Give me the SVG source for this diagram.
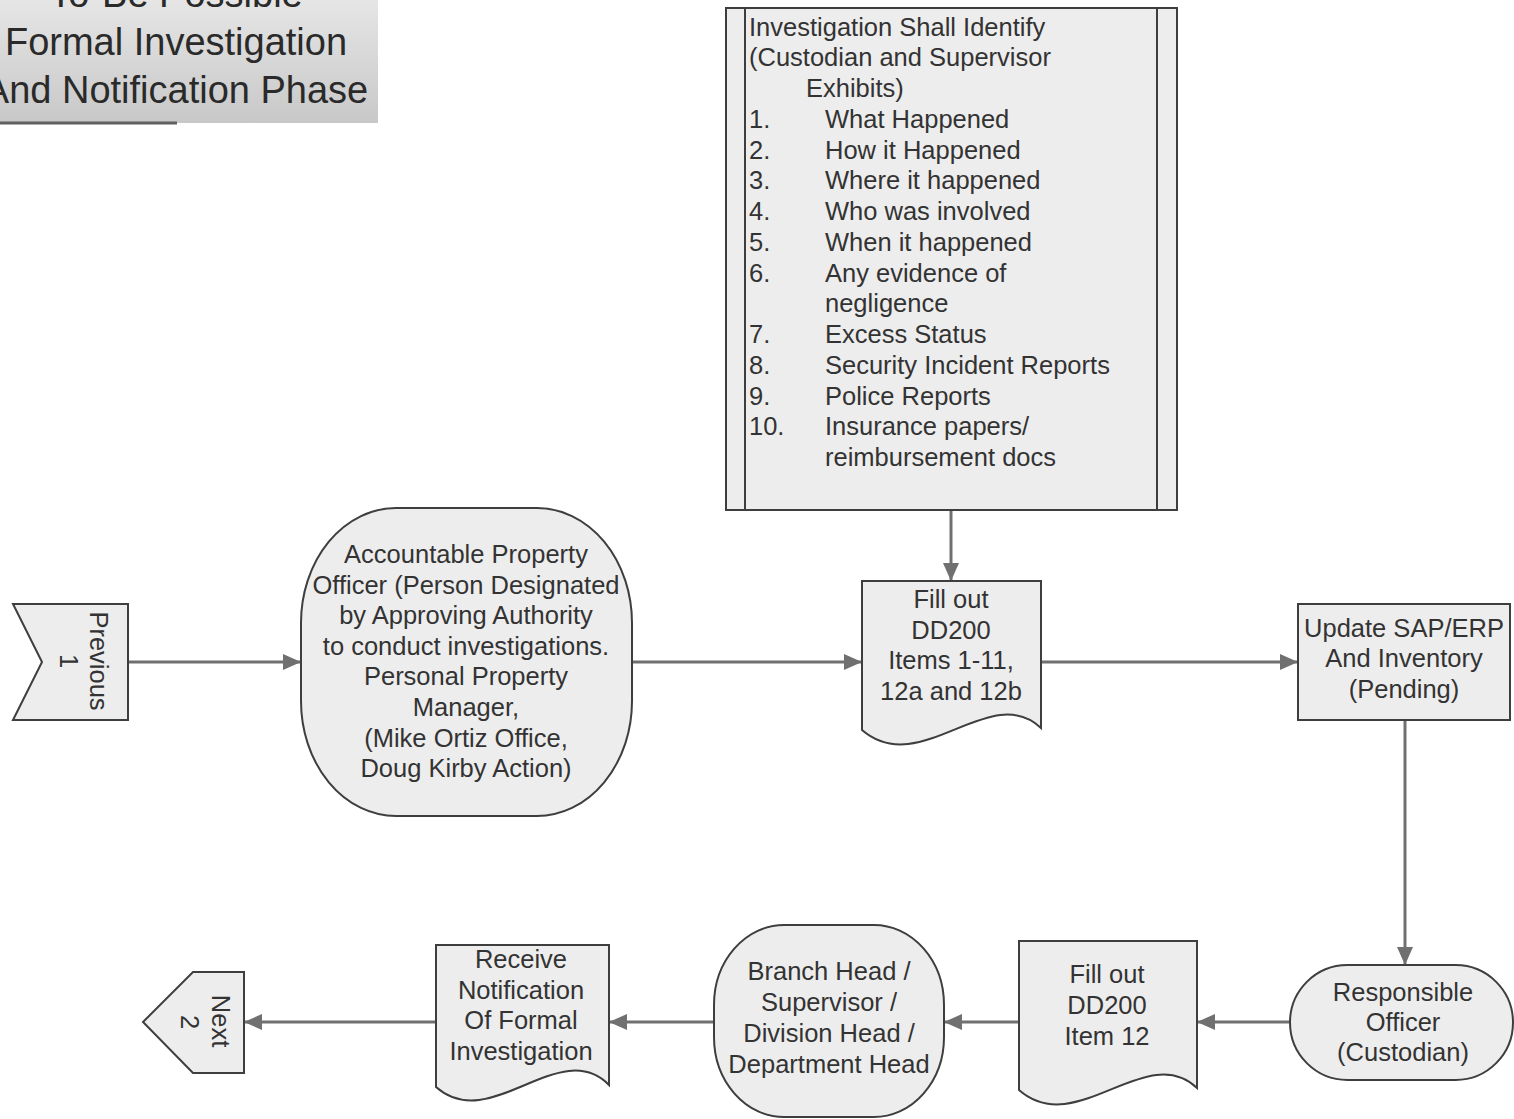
<svg xmlns="http://www.w3.org/2000/svg" width="1514" height="1119" viewBox="0 0 1514 1119">
<defs>
<linearGradient id="tg" x1="0" y1="0" x2="0" y2="1">
<stop offset="0" stop-color="#e8e8e8"/>
<stop offset="1" stop-color="#c8c8c8"/>
</linearGradient>
<marker id="arr" markerUnits="userSpaceOnUse" markerWidth="18" markerHeight="16" refX="18" refY="8" orient="auto">
<path d="M0,0 L18,8 L0,16 Z" fill="#707070"/>
</marker>
</defs>
<style>
.shape{fill:#ededed;stroke:#3e3e3e;stroke-width:2}
.t{font-family:"Liberation Sans",Arial,sans-serif;font-size:25.5px;fill:#333333}
.c{text-anchor:middle}
.title{font-family:"Liberation Sans",Arial,sans-serif;font-size:38px;fill:#2a2a2a;text-anchor:middle}
.conn{fill:none;stroke:#707070;stroke-width:3;marker-end:url(#arr)}
</style>
<rect width="1514" height="1119" fill="#ffffff"/>

<g id="title">
<rect x="-10" y="-10" width="388" height="133" fill="url(#tg)"/>
<line x1="0" y1="123" x2="177" y2="123" stroke="#606060" stroke-width="3"/>
<text class="title" x="176" y="7">To-Be Possible</text>
<text class="title" x="176" y="55">Formal Investigation</text>
<text class="title" x="176" y="103">And Notification Phase</text>
</g>

<g id="connectors">
<line class="conn" x1="128" y1="662" x2="301" y2="662"/>
<line class="conn" x1="632" y1="662" x2="862" y2="662"/>
<line class="conn" x1="951" y1="511" x2="951" y2="581"/>
<line class="conn" x1="1041" y1="662" x2="1298" y2="662"/>
<line class="conn" x1="1405" y1="720" x2="1405" y2="965"/>
<line class="conn" x1="1290" y1="1022" x2="1197" y2="1022"/>
<line class="conn" x1="1019" y1="1022" x2="944" y2="1022"/>
<line class="conn" x1="714" y1="1022" x2="609" y2="1022"/>
<line class="conn" x1="436" y1="1022" x2="244" y2="1022"/>
</g>

<g id="investigation">
<rect class="shape" x="726" y="8" width="451" height="502" stroke-width="2.5"/>
<line x1="745" y1="8" x2="745" y2="510" stroke="#3e3e3e" stroke-width="2"/>
<line x1="1157" y1="8" x2="1157" y2="510" stroke="#3e3e3e" stroke-width="2"/>
<text class="t" x="749" y="35.5">Investigation Shall Identify</text>
<text class="t" x="749" y="66.3">(Custodian and Supervisor</text>
<text class="t" x="806" y="97">Exhibits)</text>
<text class="t" x="749" y="127.8">1.</text><text class="t" x="825" y="127.8">What Happened</text>
<text class="t" x="749" y="158.5">2.</text><text class="t" x="825" y="158.5">How it Happened</text>
<text class="t" x="749" y="189.3">3.</text><text class="t" x="825" y="189.3">Where it happened</text>
<text class="t" x="749" y="220">4.</text><text class="t" x="825" y="220">Who was involved</text>
<text class="t" x="749" y="250.8">5.</text><text class="t" x="825" y="250.8">When it happened</text>
<text class="t" x="749" y="281.5">6.</text><text class="t" x="825" y="281.5">Any evidence of</text>
<text class="t" x="825" y="312.3">negligence</text>
<text class="t" x="749" y="343">7.</text><text class="t" x="825" y="343">Excess Status</text>
<text class="t" x="749" y="373.8">8.</text><text class="t" x="825" y="373.8">Security Incident Reports</text>
<text class="t" x="749" y="404.5">9.</text><text class="t" x="825" y="404.5">Police Reports</text>
<text class="t" x="749" y="435.3">10.</text><text class="t" x="825" y="435.3">Insurance papers/</text>
<text class="t" x="825" y="466">reimbursement docs</text>
</g>

<g id="previous">
<path class="shape" d="M13,604 H128 V720 H13 L42,662 Z"/>
<text class="t c" transform="translate(90,661) rotate(90)">Previous</text>
<text class="t c" transform="translate(60,661) rotate(90)">1</text>
</g>

<g id="apo">
<rect class="shape" x="301" y="508" width="331" height="308" rx="95" ry="115"/>
<text class="t c" x="466" y="563">Accountable Property</text>
<text class="t c" x="466" y="593.6">Officer (Person Designated</text>
<text class="t c" x="466" y="624.2">by Approving Authority</text>
<text class="t c" x="466" y="654.8">to conduct investigations.</text>
<text class="t c" x="466" y="685.4">Personal Property</text>
<text class="t c" x="466" y="716">Manager,</text>
<text class="t c" x="466" y="746.6">(Mike Ortiz Office,</text>
<text class="t c" x="466" y="777.2">Doug Kirby Action)</text>
</g>

<g id="filldd200">
<path class="shape" d="M862,581 H1041 V728 C990,680 920,780 862,730 Z"/>
<text class="t c" x="951" y="608">Fill out</text>
<text class="t c" x="951" y="638.7">DD200</text>
<text class="t c" x="951" y="669.4">Items 1-11,</text>
<text class="t c" x="951" y="700">12a and 12b</text>
</g>

<g id="update">
<rect class="shape" x="1298" y="604" width="212" height="116"/>
<text class="t c" x="1404" y="636.5">Update SAP/ERP</text>
<text class="t c" x="1404" y="667.2">And Inventory</text>
<text class="t c" x="1404" y="697.9">(Pending)</text>
</g>

<g id="responsible">
<rect class="shape" x="1290" y="965" width="223" height="115" rx="57.5" ry="57.5"/>
<text class="t c" x="1403" y="1001">Responsible</text>
<text class="t c" x="1403" y="1031">Officer</text>
<text class="t c" x="1403" y="1061">(Custodian)</text>
</g>

<g id="fillitem12">
<path class="shape" d="M1019,941 H1197 V1088 C1146,1040 1076,1140 1019,1090 Z"/>
<text class="t c" x="1107" y="983">Fill out</text>
<text class="t c" x="1107" y="1014">DD200</text>
<text class="t c" x="1107" y="1045">Item 12</text>
</g>

<g id="branch">
<rect class="shape" x="714" y="925" width="230" height="192" rx="70" ry="80"/>
<text class="t c" x="829" y="980">Branch Head /</text>
<text class="t c" x="829" y="1011">Supervisor /</text>
<text class="t c" x="829" y="1042">Division Head /</text>
<text class="t c" x="829" y="1073">Department Head</text>
</g>

<g id="receive">
<path class="shape" d="M436,945 H609 V1085 C560,1035 490,1135 436,1087 Z"/>
<text class="t c" x="521" y="968">Receive</text>
<text class="t c" x="521" y="998.7">Notification</text>
<text class="t c" x="521" y="1029.3">Of Formal</text>
<text class="t c" x="521" y="1060">Investigation</text>
</g>

<g id="next">
<path class="shape" d="M193,972 H244 V1073 H193 L143,1022 Z"/>
<text class="t c" transform="translate(212,1021) rotate(90)">Next</text>
<text class="t c" transform="translate(181,1022) rotate(90)">2</text>
</g>
</svg>
